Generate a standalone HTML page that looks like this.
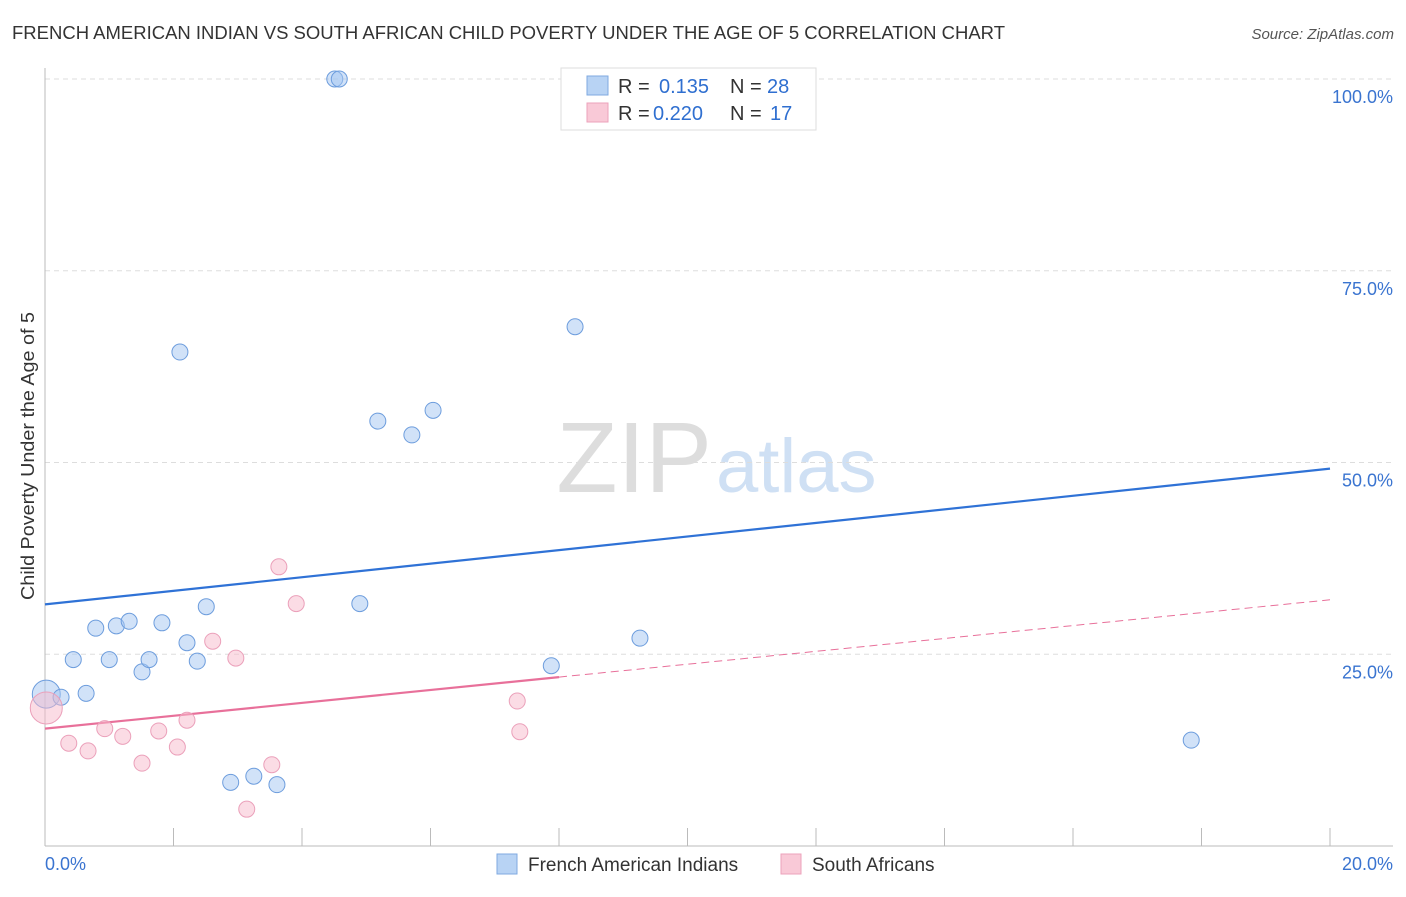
<!DOCTYPE html>
<html><head><meta charset="utf-8"><style>
body{margin:0;background:#fff;font-family:"Liberation Sans",sans-serif}
svg text{font-family:"Liberation Sans",sans-serif}
</style></head><body>
<svg id="chart" width="1406" height="892" xmlns="http://www.w3.org/2000/svg">
<text x="12" y="39" font-size="18" fill="#333" textLength="993" lengthAdjust="spacingAndGlyphs">FRENCH AMERICAN INDIAN VS SOUTH AFRICAN CHILD POVERTY UNDER THE AGE OF 5 CORRELATION CHART</text>
<text x="1394" y="39" font-size="15" fill="#555" text-anchor="end" font-style="italic">Source: ZipAtlas.com</text>
<text x="712" y="492" font-size="100" fill="#ddd" text-anchor="end" font-family="Liberation Serif">ZIP</text>
<text x="716" y="492" font-size="76" fill="#cfe0f4">atlas</text>
<text transform="translate(34,456) rotate(-90)" font-size="18" fill="#333" text-anchor="middle" textLength="288" lengthAdjust="spacingAndGlyphs">Child Poverty Under the Age of 5</text>
<g id="grid"></g><g id="lines"></g><g id="pts"></g>
<g>
<rect x="561" y="68" width="255" height="62" fill="#fff" stroke="#ddd"/>
<rect x="587" y="76" width="21" height="19" fill="#b8d3f4" stroke="#7fa9e0"/>
<rect x="587" y="103" width="21" height="19" fill="#f9c9d7" stroke="#eca2bb"/>
<text x="618" y="93" font-size="20" fill="#333">R =</text><text x="659" y="93" font-size="20" fill="#2f6fd0">0.135</text>
<text x="730" y="93" font-size="20" fill="#333">N =</text><text x="767" y="93" font-size="20" fill="#2f6fd0">28</text>
<text x="618" y="120" font-size="20" fill="#333">R =</text><text x="653" y="120" font-size="20" fill="#2f6fd0">0.220</text>
<text x="730" y="120" font-size="20" fill="#333">N =</text><text x="770" y="120" font-size="20" fill="#2f6fd0">17</text>
</g>
<g>
<rect x="497" y="854" width="20" height="20" fill="#b8d3f4" stroke="#7fa9e0"/>
<text x="528" y="871" font-size="19" fill="#333">French American Indians</text>
<rect x="781" y="854" width="20" height="20" fill="#f9c9d7" stroke="#eca2bb"/>
<text x="812" y="871" font-size="19" fill="#333">South Africans</text>
</g>
</svg>
<script>
const yTicks=[25,50,75,100];
const xTickLabels=["0.0%","20.0%"];
const blueX=[4.51,4.58,2.10,8.25,5.18,5.71,6.04,0.02,0.25,0.44,0.64,0.79,1.00,1.11,1.31,1.51,1.62,1.82,2.21,2.37,2.51,2.89,3.25,3.61,4.90,7.88,9.26,17.84];
const blueY=[100,100,64.4,67.7,55.4,53.6,56.8,19.8,19.4,24.3,19.9,28.4,24.3,28.7,29.3,22.7,24.3,29.1,26.5,24.1,31.2,8.3,9.1,8.0,31.6,23.5,27.1,13.8];
const pinkX=[0.02,0.37,0.67,0.93,1.21,1.51,1.77,2.06,2.21,2.61,2.97,3.14,3.53,3.64,3.91,7.35,7.39];
const pinkY=[18.0,13.4,12.4,15.3,14.3,10.8,15.0,12.9,16.4,26.7,24.5,4.8,10.6,36.4,31.6,18.9,14.9];
const blueTrend=[31.5,49.2];
const pinkTrend=[15.3,32.1];
const pinkSolidEnd=8.0;
const NS="http://www.w3.org/2000/svg";
const X=v=>45+v*1285/20, Y=v=>846-v*7.67;
function mk(tag,attrs,parent){const e=document.createElementNS(NS,tag);for(const k in attrs)e.setAttribute(k,attrs[k]);document.getElementById(parent).appendChild(e);return e;}
yTicks.forEach(t=>{
 const g=mk('line',{x1:45,x2:1393,y1:Y(t),y2:Y(t),stroke:'#ddd','stroke-dasharray':'5,4'},'grid');
 
 
 const l=mk('text',{x:1393,y:Y(t)+24,'font-size':18,fill:'#3a74d0','text-anchor':'end'},'grid');
 l.textContent=t.toFixed(1)+'%';
 
 
});
mk('line',{x1:45,x2:45,y1:68,y2:846,stroke:'#bbb'},'grid');
mk('line',{x1:45,x2:1393,y1:846,y2:846,stroke:'#bbb'},'grid');
for(let i=0;i<=10;i++){const t=mk('line',{x1:X(i*2),x2:X(i*2),y1:828,y2:846,stroke:'#bbb'},'grid');
 
 }
[[0,'start',45],[20,'end',1393]].forEach((a,i)=>{const t=mk('text',{x:a[2],y:870,'font-size':18,fill:'#3a74d0','text-anchor':a[1]},'grid');t.textContent=xTickLabels[i];
 
 });
const bl=mk('line',{x1:X(0),y1:Y(blueTrend[0]),x2:X(20),y2:Y(blueTrend[1]),stroke:'#2f72d6','stroke-width':2.2},'lines');


const pAt=x=>pinkTrend[0]+(pinkTrend[1]-pinkTrend[0])*x/20;
const ps=mk('line',{x1:X(0),y1:Y(pinkTrend[0]),x2:X(pinkSolidEnd),y2:Y(pAt(pinkSolidEnd)),stroke:'#e8709a','stroke-width':2.2},'lines');


const pd=mk('line',{x1:X(pinkSolidEnd),y1:Y(pAt(pinkSolidEnd)),x2:X(20),y2:Y(pinkTrend[1]),stroke:'#e8709a','stroke-width':1,'stroke-dasharray':'8,5'},'lines');


blueX.forEach((x,i)=>{const c=mk('circle',{cx:X(x),cy:Y(blueY[i]),r:i==7?14:8,fill:'rgba(164,198,242,0.5)',stroke:'#6d9ddd','stroke-width':1},'pts');
 
 });
pinkX.forEach((x,i)=>{const c=mk('circle',{cx:X(x),cy:Y(pinkY[i]),r:i==0?16:8,fill:'rgba(247,186,204,0.5)',stroke:'#eba0ba','stroke-width':1},'pts');
 
 });
</script>
</body></html>
